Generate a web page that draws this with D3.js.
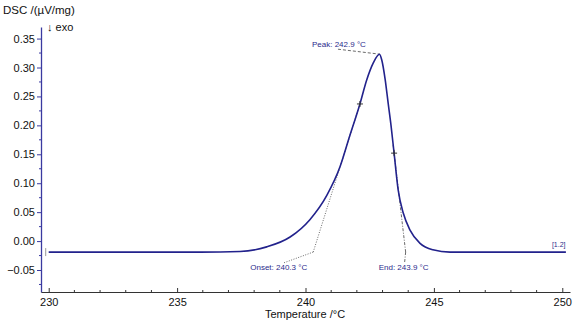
<!DOCTYPE html>
<html>
<head>
<meta charset="utf-8">
<script src="https://cdn.jsdelivr.net/npm/d3@7"></script>
<style>
  body { margin: 0; background: #fff; }
  text { font-family: "Liberation Sans", Arial, sans-serif; }
</style>
</head>
<body>
<div id="chart"></div>
<script>
// measured curve (temperature in °C, DSC in µV/mg)
var temps = [230.0, 233.0, 235.9, 237.45, 238.49, 239.40, 240.17, 240.83, 241.34, 241.73,
             242.12, 242.38, 242.64, 242.88, 242.97, 243.10, 243.22, 243.33, 243.45, 243.61,
             243.81, 244.07, 244.46, 244.96, 245.63, 247.0, 250.14];
var dsc = [-0.019, -0.019, -0.019, -0.018, -0.010, 0.007, 0.037, 0.079, 0.128, 0.183,
           0.237, 0.278, 0.308, 0.323, 0.313, 0.280, 0.238, 0.200, 0.152, 0.088,
           0.048, 0.019, -0.004, -0.015, -0.019, -0.019, -0.019];

var xTicks = [230, 235, 240, 245, 250];
var yTicks = [-0.05, 0.00, 0.05, 0.10, 0.15, 0.20, 0.25, 0.30, 0.35];

// evaluation results
var baseline = -0.019;
var onsetT = 240.3, onsetInflection = [242.12, 0.237];
var endT = 243.9, endInflection = [243.45, 0.152];
var peakT = 242.9, peakV = 0.323;

var cfg = {
    width: 578,
    height: 322
};

var x = d3.scaleLinear().domain([229.7, 250.3]).range([41, 570]);
var y = d3.scaleLinear().domain([-0.088, 0.37]).range([292, 27]);

var svg = d3.select("#chart").append("svg")
    .attr("width", cfg.width)
    .attr("height", cfg.height);

var blue = "#22228c";

// y axis
var yAxis = d3.axisLeft(y)
    .tickValues(yTicks)
    .tickSize(4)
    .tickSizeOuter(0)
    .tickFormat(d3.format(".2f"));
var gy = svg.append("g")
    .attr("transform", "translate(" + x.range()[0] + ",0)")
    .call(yAxis);
gy.select(".domain").attr("stroke", "#3a3aa0").attr("stroke-width", 1.3);
gy.selectAll(".tick line").attr("stroke", "#3a3aa0");
gy.selectAll(".tick text").attr("font-size", 11).attr("fill", "#111").attr("x", -6);
// minor y ticks
svg.append("g").selectAll("line")
    .data(d3.range(-0.075, 0.37, 0.05))
    .enter().append("line")
    .attr("x1", x.range()[0] - 2).attr("x2", x.range()[0])
    .attr("y1", function(d) { return y(d); })
    .attr("y2", function(d) { return y(d); })
    .attr("stroke", "#3a3aa0");

// x axis
var xAxis = d3.axisBottom(x)
    .tickValues(xTicks)
    .tickSize(-4)
    .tickSizeOuter(0)
    .tickFormat(d3.format("d"));
var gx = svg.append("g")
    .attr("transform", "translate(0," + y.range()[0] + ")")
    .call(xAxis);
gx.select(".domain").attr("stroke", "#333");
gx.selectAll(".tick line").attr("stroke", "#333");
gx.selectAll(".tick text").attr("font-size", 11).attr("fill", "#111").attr("y", 6);
// minor x ticks
svg.append("g").selectAll("line")
    .data(d3.range(230, 251, 1).filter(function(d) { return d % 5 != 0; }))
    .enter().append("line")
    .attr("x1", function(d) { return x(d); })
    .attr("x2", function(d) { return x(d); })
    .attr("y1", y.range()[0] - 2).attr("y2", y.range()[0])
    .attr("stroke", "#333");

// axis titles
svg.append("text").attr("x", 3).attr("y", 14)
    .attr("font-size", 11.5).attr("fill", "#111").text("DSC /(µV/mg)");
svg.append("text").attr("x", 47).attr("y", 31)
    .attr("font-size", 11).attr("fill", "#111").text("↓  exo");
svg.append("text").attr("x", 305).attr("y", 318)
    .attr("text-anchor", "middle")
    .attr("font-size", 11).attr("fill", "#111").text("Temperature /°C");

// evaluation lines
var annot = svg.append("g").attr("fill", "none").attr("stroke", "#444").attr("stroke-width", 0.8);
function slopeExt(p0, p1, k) {
    return [p0[0] + (p1[0] - p0[0]) * k, p0[1] + (p1[1] - p0[1]) * k];
}
var onsetEnd = slopeExt([onsetT, baseline], onsetInflection, 1.0);
annot.append("line")
    .attr("x1", x(onsetT)).attr("y1", y(baseline))
    .attr("x2", x(onsetEnd[0])).attr("y2", y(onsetEnd[1]))
    .attr("stroke-dasharray", "1,1.5");
annot.append("line")
    .attr("x1", x(onsetT)).attr("y1", y(baseline))
    .attr("x2", x(onsetT) - 30).attr("y2", y(baseline) + 11)
    .attr("stroke-dasharray", "1,1.5");
var endEnd = slopeExt([endT, baseline], endInflection, 1.1);
annot.append("line")
    .attr("x1", x(endT)).attr("y1", y(baseline))
    .attr("x2", x(endEnd[0])).attr("y2", y(endEnd[1]))
    .attr("stroke-dasharray", "3,1.5,1,1.5");
annot.append("line")
    .attr("x1", x(endT)).attr("y1", y(baseline))
    .attr("x2", x(endT) - 1).attr("y2", y(baseline) + 10)
    .attr("stroke-dasharray", "3,1.5,1,1.5");
annot.append("line")
    .attr("x1", x(peakT) - 42).attr("y1", y(peakV) - 5)
    .attr("x2", x(peakT)).attr("y2", y(peakV))
    .attr("stroke-dasharray", "3,2");

// curve
var pts = temps.map(function(t, i) { return [t, dsc[i]]; });
var line = d3.line()
    .x(function(d) { return x(d[0]); })
    .y(function(d) { return y(d[1]); })
    .curve(d3.curveMonotoneX);
svg.append("path")
    .datum(pts)
    .attr("d", line)
    .attr("fill", "none")
    .attr("stroke", blue)
    .attr("stroke-width", 1.6);

// start marker and inflection crosses
svg.append("line")
    .attr("x1", x(temps[0]) - 3).attr("x2", x(temps[0]) - 3)
    .attr("y1", y(baseline) - 4).attr("y2", y(baseline) + 4)
    .attr("stroke", "#999");
[onsetInflection, endInflection].forEach(function(p) {
    var cx = x(p[0]), cy = y(p[1]);
    svg.append("path")
        .attr("d", "M" + (cx - 3) + "," + cy + "H" + (cx + 3) + "M" + cx + "," + (cy - 3) + "V" + (cy + 3))
        .attr("stroke", "#333").attr("stroke-width", 1);
});

// labels
var lab = svg.append("g").attr("font-size", 8).attr("fill", "#2b2b8c");
lab.append("text").attr("x", x(peakT) - 68).attr("y", y(peakV) - 7)
    .text("Peak: " + peakT.toFixed(1) + " °C");
lab.append("text").attr("x", x(onsetT) - 63).attr("y", y(baseline) + 18)
    .text("Onset: " + onsetT.toFixed(1) + " °C");
lab.append("text").attr("x", x(endT) - 27).attr("y", y(baseline) + 18)
    .text("End: " + endT.toFixed(1) + " °C");
lab.append("text").attr("x", x(temps[temps.length - 1]) - 14).attr("y", y(baseline) - 5)
    .attr("font-size", 7).text("[1.2]");
</script>
</body>
</html>
